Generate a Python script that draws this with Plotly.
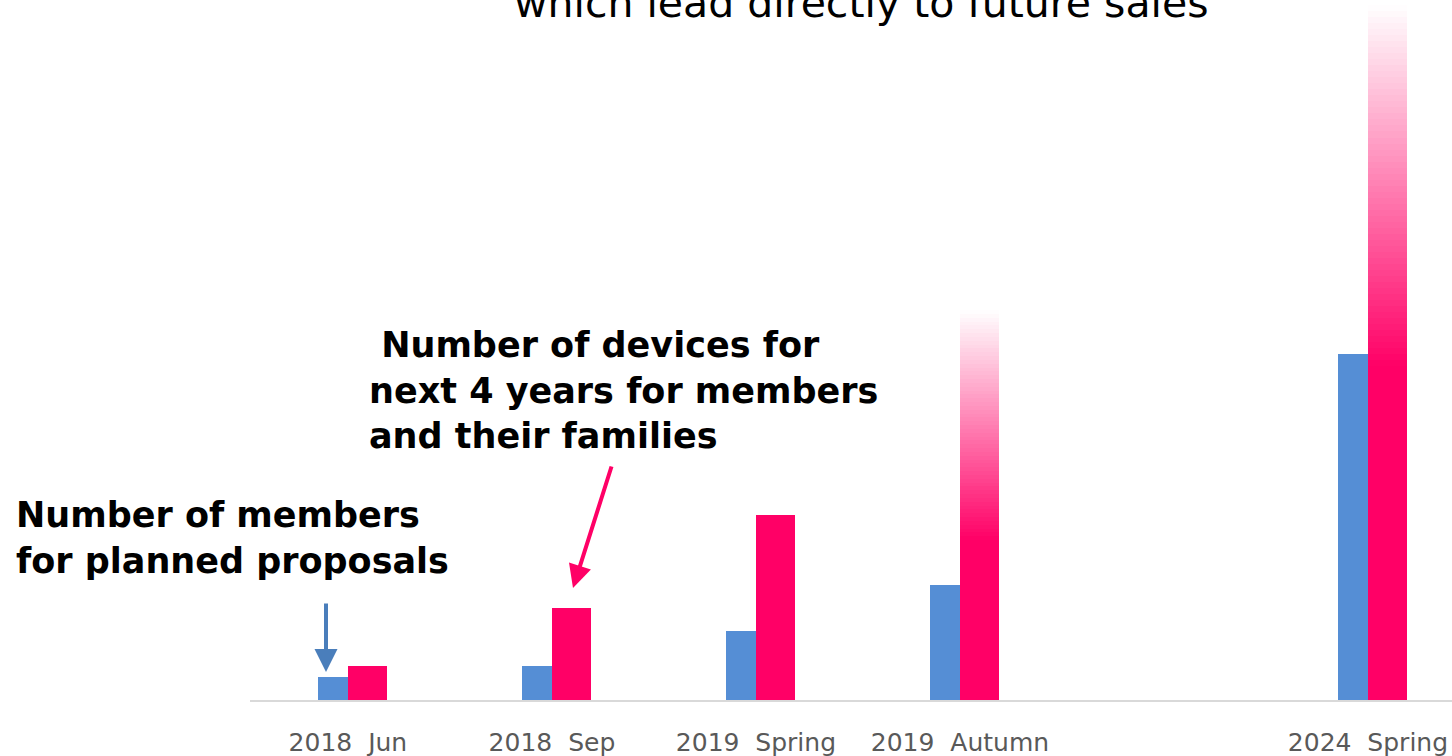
import plotly.graph_objects as go

# ---------------- data ----------------
categories = ["2018\u00a0\u00a0Jun", "2018\u00a0\u00a0Sep", "2019\u00a0\u00a0Spring", "2019\u00a0\u00a0Autumn", "2024\u00a0\u00a0Spring"]
axis_order = ["2018\u00a0\u00a0Jun", "2018\u00a0\u00a0Sep", "2019\u00a0\u00a0Spring", "2019\u00a0\u00a0Autumn", "\u00a0", "2024\u00a0\u00a0Spring"]
members = [23, 34, 69, 115, 346]          # blue bars
devices = [34, 92, 185, 390, 695]         # pink bars
fade_from = [None, None, None, 0.41, 0.48]  # fraction of bar height where fade to white starts

title_text = "which lead directly to future sales"
label_devices = "\u00a0Number of devices for<br>next 4 years for members<br>and their families"
label_members = "Number of members<br>for planned proposals"

# ---------------- style ----------------
W, H = 1452, 756
ML, MR, MT, MB = 250, 0, 0, 56
BLUE = "#558ED5"
BLUE_ARROW = "#4A7EBB"
PINK = (255, 0, 102)
PINK_HEX = "#FF0066"
FONT = "DejaVu Sans"
N_SEG = 60

def px_x(px):
    return (px - ML) / (W - ML - MR)

def px_y(py):
    return (H - MB - py) / (H - MB - MT)

def mix(t):
    r = round(PINK[0] + (255 - PINK[0]) * t)
    g = round(PINK[1] + (255 - PINK[1]) * t)
    b = round(PINK[2] + (255 - PINK[2]) * t)
    return f"rgb({r},{g},{b})"

fig = go.Figure()

# blue bars
fig.add_trace(go.Bar(
    x=categories, y=members, marker=dict(color=BLUE, line=dict(width=0)),
    width=0.148, offset=-0.148, showlegend=False, hoverinfo="skip"))

# pink solid parts
solid_vals = []
seg_x, seg_base, seg_h, seg_col = [], [], [], []
for cat, v, f in zip(categories, devices, fade_from):
    if f is None:
        solid_vals.append(v)
    else:
        h = v * (1 - f) / N_SEG
        solid_vals.append(v * f + h)
        for k in range(N_SEG):
            seg_x.append(cat)
            seg_base.append(v * f + k * h)
            seg_h.append(h * 1.6 if k < N_SEG - 1 else h)
            seg_col.append(mix((k + 0.5) / N_SEG))

fig.add_trace(go.Bar(
    x=categories, y=solid_vals, marker=dict(color=PINK_HEX, line=dict(width=0)),
    width=0.19, offset=0.0, showlegend=False, hoverinfo="skip"))

fig.add_trace(go.Bar(
    x=seg_x, y=seg_h, base=seg_base, marker=dict(color=seg_col, line=dict(width=0)),
    width=0.19, offset=0.0, showlegend=False, hoverinfo="skip"))

annotations = [
    dict(text=title_text, xref="paper", yref="paper", x=px_x(861), y=px_y(29),
         xanchor="center", yanchor="bottom", showarrow=False,
         font=dict(family=FONT, size=41, color="#000000")),
    dict(text=label_devices, xref="paper", yref="paper", x=px_x(367), y=px_y(390),
         xanchor="left", yanchor="middle", align="left", showarrow=False,
         font=dict(family=FONT, size=35, color="#000000", weight="bold")),
    dict(text=label_members, xref="paper", yref="paper", x=px_x(14), y=px_y(538),
         xanchor="left", yanchor="middle", align="left", showarrow=False,
         font=dict(family=FONT, size=35, color="#000000", weight="bold")),
    # blue arrow
    dict(text="", xref="paper", yref="paper", x=px_x(326), y=px_y(672),
         ax=0, ay=-70, axref="pixel", ayref="pixel", showarrow=True,
         arrowhead=2, arrowsize=1.15, arrowwidth=4, arrowcolor=BLUE_ARROW, standoff=0),
    # pink arrow
    dict(text="", xref="paper", yref="paper", x=px_x(573), y=px_y(588),
         ax=39, ay=-123, axref="pixel", ayref="pixel", showarrow=True,
         arrowhead=2, arrowsize=1.15, arrowwidth=4, arrowcolor=PINK_HEX, standoff=0),
]

fig.update_layout(
    width=W, height=H,
    margin=dict(l=ML, r=MR, t=MT, b=MB, pad=0),
    paper_bgcolor="white", plot_bgcolor="white",
    barmode="overlay", bargap=0,
    showlegend=False,
    annotations=annotations,
    xaxis=dict(type="category", categoryorder="array", categoryarray=axis_order,
               tickvals=categories, ticktext=categories,
               range=[-0.48, 5.412], showline=True, linecolor="#D9D9D9", linewidth=2,
               ticks="", showgrid=False, zeroline=False,
               tickfont=dict(family=FONT, size=25, color="#595959"),
               ticklabelstandoff=19, fixedrange=True),
    yaxis=dict(range=[0, 700], visible=False, showgrid=False, zeroline=False, fixedrange=True),
)

fig.write_html("out.html", config={"displayModeBar": False})
